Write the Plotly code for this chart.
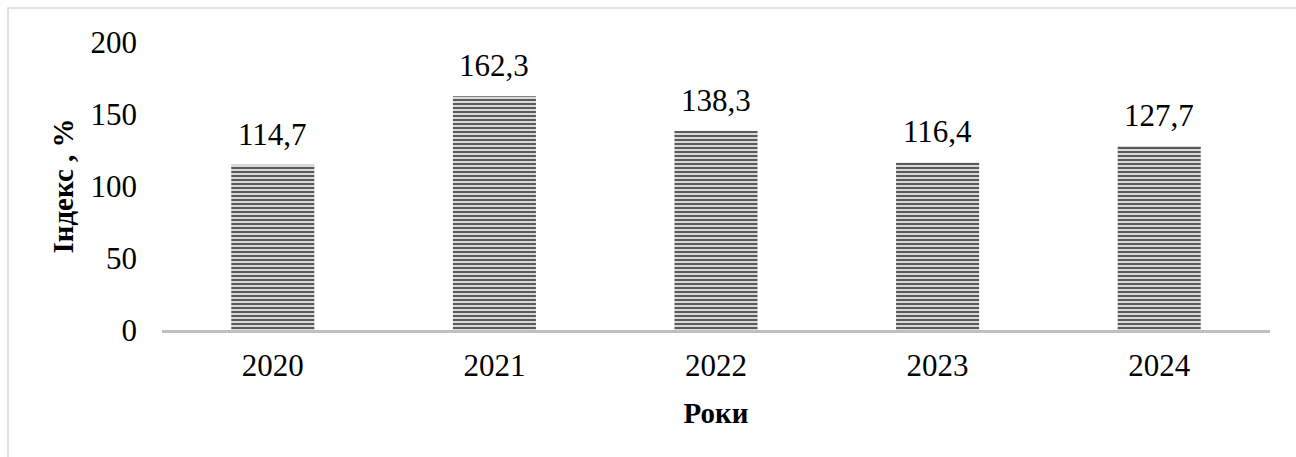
import plotly.graph_objects as go

years = ["2020", "2021", "2022", "2023", "2024"]
values = [114.7, 162.3, 138.3, 116.4, 127.7]
labels = ["114,7", "162,3", "138,3", "116,4", "127,7"]
y_ticks = [0, 50, 100, 150, 200]

SERIF = "Liberation Serif, 'Times New Roman', Times, serif"
W, H = 1296, 457
L, R, T, B = 162, 26, 42, 127
pw = W - L - R
ph = H - T - B

fig = go.Figure()
fig.add_trace(go.Bar(
    x=years, y=values,
    marker=dict(
        color="#d0d0d0",
        line=dict(width=0),
        pattern=dict(shape="-", fgcolor="#5a5a5a", bgcolor="#dadada",
                     size=4, solidity=0.5, fillmode="replace"),
    ),
))

for i, (yv, lab) in enumerate(zip(values, labels)):
    fig.add_annotation(x=i, y=yv, xref="x", yref="y", text=lab, showarrow=False,
                       yanchor="bottom", yshift=11,
                       font=dict(family=SERIF, size=31, color="#000000"))

fig.update_layout(
    width=W, height=H,
    margin=dict(l=L, r=R, t=T, b=B),
    paper_bgcolor="white", plot_bgcolor="white",
    bargap=0.625, showlegend=False,
    font=dict(family=SERIF, color="#000000"),
    xaxis=dict(
        type="category", categoryorder="array", categoryarray=years,
        range=[-0.5, len(years) - 0.5], autorange=False,
        showline=True, linecolor="#bfbfbf", linewidth=3,
        tickfont=dict(family=SERIF, size=31),
        ticks="", showgrid=False, zeroline=False, ticklabelstandoff=6,
        title=dict(text="<b>Роки</b>", font=dict(family=SERIF, size=29), standoff=21),
    ),
    yaxis=dict(
        range=[0, 200], tickvals=y_ticks, ticktext=[str(v) for v in y_ticks],
        showgrid=False, zeroline=False, showline=False, ticks="",
        tickfont=dict(family=SERIF, size=31), ticklabelstandoff=24,
        title=dict(text="<b>Індекс , %</b>", font=dict(family=SERIF, size=29), standoff=8),
    ),
    shapes=[dict(
        type="rect", xref="paper", yref="paper",
        x0=(8 - L) / pw, x1=1.5, y0=-1.0, y1=(H - B - 8) / ph,
        line=dict(color="#d9d9d9", width=1.5), fillcolor="rgba(0,0,0,0)", layer="below",
    )],
)

fig.write_html("out.html")
